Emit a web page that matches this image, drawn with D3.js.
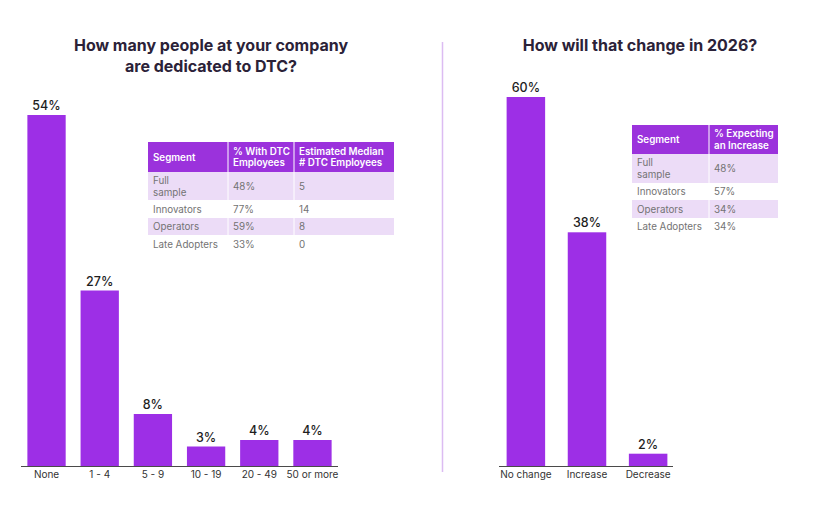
<!DOCTYPE html>
<html>
<head>
<meta charset="utf-8">
<script src="https://cdn.jsdelivr.net/npm/d3@7"></script>
<style>
  body { margin: 0; background: #fff; }
  svg { display: block; font-family: Inter, "Noto Sans", sans-serif; }
</style>
</head>
<body>
<div id="chart"></div>
<script>
// Left chart: team size dedicated to DTC
const sizeCategories = ['None', '1 - 4', '5 - 9', '10 - 19', '20 - 49', '50 or more'];
const sizeValues = [54, 27, 8, 3, 4, 4];

// Right chart: expected change in 2026
const changeCategories = ['No change', 'Increase', 'Decrease'];
const changeValues = [60, 38, 2];

// Segment tables
const segments = ['Full\nsample', 'Innovators', 'Operators', 'Late Adopters'];
const pctWithDtc = ['48%', '77%', '59%', '33%'];
const medianDtc = ['5', '14', '8', '0'];
const pctExpectIncrease = ['48%', '57%', '34%', '34%'];

const W = 817, H = 527;
const barColor = '#9d2fe6';
const titleColor = '#2b2238';

const svg = d3.select('#chart').append('svg')
  .attr('width', W)
  .attr('height', H);

/**
 * Draw one bar chart with its axis line and value labels
 */
function drawBars(opts) {
  const x = d3.scaleBand()
    .domain(opts.categories)
    .range(opts.xRange)
    .paddingInner(opts.padInner)
    .paddingOuter(opts.padOuter);

  const y = d3.scaleLinear()
    .domain([0, d3.max(opts.values)])
    .range([opts.baseline, opts.top]);

  const g = svg.append('g');
  const data = opts.categories.map((c, i) => ({ c: c, v: opts.values[i] }));

  g.selectAll('rect.bar')
    .data(data)
    .join('rect')
    .attr('class', 'bar')
    .attr('x', d => x(d.c))
    .attr('y', d => y(d.v))
    .attr('width', x.bandwidth())
    .attr('height', d => opts.baseline - y(d.v))
    .attr('fill', barColor);

  g.selectAll('text.val')
    .data(data)
    .join('text')
    .attr('class', 'val')
    .attr('x', d => x(d.c) + x.bandwidth() / 2)
    .attr('y', d => y(d.v) - 5)
    .attr('text-anchor', 'middle')
    .attr('font-size', 12.5)
    .attr('font-weight', 500)
    .attr('fill', '#1e1e1e')
    .text(d => d.v + '%');

  // Axis: baseline and category labels
  const axis = d3.axisBottom(x).tickSize(0).tickPadding(5);
  const ag = g.append('g')
    .attr('transform', `translate(0,${opts.baseline})`)
    .call(axis);
  ag.select('.domain')
    .attr('d', `M${opts.axisRange[0]},0.5H${opts.axisRange[1]}`)
    .attr('stroke', '#4a4a4a')
    .attr('stroke-width', 1);
  ag.selectAll('text')
    .attr('font-size', 10)
    .attr('font-family', 'Inter, "Noto Sans", sans-serif')
    .attr('fill', '#333');
}

/**
 * Draw a small segment table
 */
function drawTable(opts) {
  const g = svg.append('g')
    .attr('transform', `translate(${opts.x},${opts.y})`);
  const colX = [0];
  opts.colWidths.forEach((w, i) => colX.push(colX[i] + w));
  const totalW = colX[colX.length - 1];

  // Header
  g.append('rect')
    .attr('width', totalW)
    .attr('height', opts.headerH)
    .attr('fill', '#9b32dc');
  opts.header.forEach((h, i) => {
    const lines = h.split('\n');
    const t = g.append('text')
      .attr('fill', '#fff')
      .attr('font-size', 9.8)
      .attr('font-weight', 600);
    lines.forEach((l, k) => {
      t.append('tspan')
        .attr('x', colX[i] + 5)
        .attr('y', opts.headerH / 2 + (k - (lines.length - 1) / 2) * 11.5 + 3.6)
        .text(l);
    });
    if (i > 0) {
      g.append('line')
        .attr('x1', colX[i]).attr('x2', colX[i])
        .attr('y1', 0).attr('y2', opts.headerH)
        .attr('stroke', '#fff').attr('stroke-width', 1);
    }
  });

  // Body rows
  let yy = opts.headerH;
  opts.rows.forEach((row, r) => {
    const rh = opts.rowHeights[r];
    if (r % 2 === 0) {
      g.append('rect')
        .attr('y', yy)
        .attr('width', totalW)
        .attr('height', rh)
        .attr('fill', '#ecdcf7');
      for (let i = 1; i < colX.length - 1; i++) {
        g.append('line')
          .attr('x1', colX[i]).attr('x2', colX[i])
          .attr('y1', yy).attr('y2', yy + rh)
          .attr('stroke', '#fff').attr('stroke-width', 1);
      }
    }
    row.forEach((cell, i) => {
      const lines = cell.split('\n');
      const t = g.append('text')
        .attr('fill', '#737373')
        .attr('font-size', 9.8);
      lines.forEach((l, k) => {
        t.append('tspan')
          .attr('x', colX[i] + 5)
          .attr('y', yy + rh / 2 + (k - (lines.length - 1) / 2) * 12 + 3.5)
          .text(l);
      });
    });
    yy += rh;
  });
}

// Titles
function drawTitle(lines, cx, y0) {
  const t = svg.append('text')
    .attr('text-anchor', 'middle')
    .attr('font-size', 16)
    .attr('font-weight', 700)
    .attr('fill', titleColor);
  lines.forEach((l, k) => {
    t.append('tspan').attr('x', cx).attr('y', y0 + k * 21).text(l);
  });
}

drawTitle(['How many people at your company', 'are dedicated to DTC?'], 211, 51);
drawTitle(['How will that change in 2026?'], 640, 51);

// Divider between the two charts
svg.append('line')
  .attr('x1', 442.5).attr('x2', 442.5)
  .attr('y1', 42).attr('y2', 472)
  .attr('stroke', '#dcbcf2')
  .attr('stroke-width', 1.5);

drawBars({
  categories: sizeCategories,
  values: sizeValues,
  xRange: [21, 338],
  axisRange: [21, 338],
  padInner: 0.28,
  padOuter: 0.12,
  baseline: 466,
  top: 115
});

drawBars({
  categories: changeCategories,
  values: changeValues,
  xRange: [484, 690],
  axisRange: [499, 673],
  padInner: 0.37,
  padOuter: 0.37,
  baseline: 466,
  top: 97
});

drawTable({
  x: 148, y: 142,
  colWidths: [80, 66, 100],
  headerH: 30,
  rowHeights: [28, 18, 17, 18],
  header: ['Segment', '% With DTC\nEmployees', 'Estimated  Median\n# DTC Employees'],
  rows: segments.map((s, i) => [s, pctWithDtc[i], medianDtc[i]])
});

drawTable({
  x: 632, y: 125,
  colWidths: [77, 69],
  headerH: 29,
  rowHeights: [29, 17, 18, 17],
  header: ['Segment', '% Expecting\nan Increase'],
  rows: segments.map((s, i) => [s, pctExpectIncrease[i]])
});
</script>
</body>
</html>
